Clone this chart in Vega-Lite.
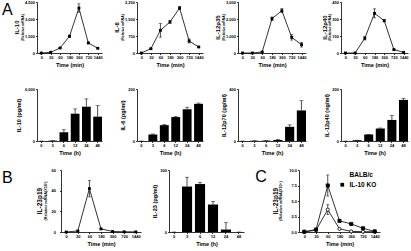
{
  "$schema": "https://vega.github.io/schema/vega-lite/v6.json",
  "background": "white",
  "padding": {"left": 1, "top": 0, "right": 0, "bottom": 0},
  "datasets": {
    "a1": [{"t":"0","v":0,"e":0},{"t":"30","v":60,"e":20},{"t":"60","v":445,"e":50},{"t":"180","v":1480,"e":100},{"t":"360","v":3970,"e":370},{"t":"720","v":890,"e":80},{"t":"1440","v":415,"e":40}],
    "a2": [{"t":"0","v":0,"e":0},{"t":"30","v":190,"e":20},{"t":"60","v":1000,"e":300},{"t":"180","v":1370,"e":60},{"t":"360","v":1985,"e":60},{"t":"720","v":530,"e":90},{"t":"1440","v":265,"e":30}],
    "a3": [{"t":"0","v":0,"e":0},{"t":"30","v":0,"e":0},{"t":"60","v":60,"e":20},{"t":"180","v":2020,"e":100},{"t":"360","v":2490,"e":120},{"t":"720","v":920,"e":160},{"t":"1440","v":490,"e":140}],
    "a4": [{"t":"0","v":0,"e":0},{"t":"30","v":0,"e":0},{"t":"60","v":130,"e":15},{"t":"180","v":350,"e":40},{"t":"360","v":285,"e":10},{"t":"720","v":30,"e":5},{"t":"1440","v":6,"e":2}],
    "b1": [{"t":"0","v":0,"hi":0},{"t":"3","v":40,"hi":40},{"t":"6","v":1000,"hi":1300},{"t":"12","v":3150,"hi":3700},{"t":"24","v":3960,"hi":4860},{"t":"48","v":2810,"hi":4080}],
    "b2": [{"t":"0","v":0,"hi":0},{"t":"3","v":25,"hi":27},{"t":"6","v":61,"hi":64},{"t":"12","v":92,"hi":94},{"t":"24","v":122,"hi":130},{"t":"48","v":143,"hi":146}],
    "b3": [{"t":"0","v":0,"hi":0},{"t":"3","v":2,"hi":2},{"t":"6","v":3,"hi":3},{"t":"12","v":8,"hi":12},{"t":"24","v":109,"hi":124},{"t":"48","v":235,"hi":310}],
    "b4": [{"t":"0","v":0,"hi":0},{"t":"3","v":3,"hi":3},{"t":"6","v":25,"hi":25},{"t":"12","v":48,"hi":50},{"t":"24","v":81,"hi":98},{"t":"48","v":158,"hi":164}],
    "c1": [{"t":"0","v":0,"e":0},{"t":"30","v":1,"e":0.5},{"t":"60","v":42,"e":8},{"t":"180","v":3,"e":0.5},{"t":"360","v":0.5,"e":0.2},{"t":"720","v":0.2,"e":0},{"t":"1440","v":0.1,"e":0}],
    "c2": [{"t":"0","v":0,"hi":0},{"t":"3","v":220,"hi":265},{"t":"6","v":232,"hi":240},{"t":"12","v":133,"hi":148},{"t":"24","v":12,"hi":45},{"t":"48","v":0,"hi":0}],
    "d": [
      {"s":"BALB/c","t":"0","v":0,"e":0},{"s":"BALB/c","t":"30","v":0.3,"e":0.1},{"s":"BALB/c","t":"60","v":3.6,"e":0.8},{"s":"BALB/c","t":"180","v":0.5,"e":0.1},{"s":"BALB/c","t":"360","v":0.1,"e":0},{"s":"BALB/c","t":"720","v":0.05,"e":0},{"s":"BALB/c","t":"1440","v":0.05,"e":0},
      {"s":"IL-10 KO","t":"0","v":0.05,"e":0},{"s":"IL-10 KO","t":"30","v":0.4,"e":0.1},{"s":"IL-10 KO","t":"60","v":7.5,"e":1.7},{"s":"IL-10 KO","t":"180","v":1.8,"e":0.2},{"s":"IL-10 KO","t":"360","v":1.3,"e":0.1},{"s":"IL-10 KO","t":"720","v":0.6,"e":0.1},{"s":"IL-10 KO","t":"1440","v":0.1,"e":0}
    ],
    "none": []
  },
  "bounds": "flush",
  "spacing": 168,
  "resolve": {"scale": {"shape": "independent", "fill": "independent"}, "legend": {"shape": "independent", "fill": "independent"}},
  "vconcat": [
    {
      "bounds": "flush",
      "spacing": 87,
      "vconcat": [
        {
          "bounds": "flush",
          "columns": 5,
          "align": "each",
          "spacing": 35,
          "title": {"text": "A", "anchor": "start", "frame": "bounds", "fontSize": 16, "fontWeight": "normal", "baseline": "top", "offset": 0, "dx": 1, "dy": 17.5},
          "concat": [
            {"width": 1, "height": 1, "data": {"name": "none"}, "mark": "point"},
            {
              "width": 65, "height": 51, "data": {"name": "a1"},
              "title": {"text": "IL-10", "subtitle": "(Relative mRNA)", "orient": "left", "anchor": "middle", "fontSize": 6, "fontWeight": "bold", "subtitleFontSize": 3.4, "subtitleFontWeight": "bold", "subtitlePadding": 0.3, "offset": 0.5, "subtitleColor": "black"},
              "encoding": {
                "x": {"field": "t", "type": "ordinal", "sort": null, "scale": {"type": "point", "padding": 0.45}, "axis": {"title": "Time (min)"}},
                "y": {"field": "v", "type": "quantitative", "scale": {"domain": [0, 4500]}, "axis": {"values": [0, 1500, 3000, 4500], "title": null}}
              },
              "layer": [
                {"mark": {"type": "line", "color": "black", "strokeWidth": 0.8}},
                {"mark": {"type": "errorbar", "color": "black", "thickness": 0.7, "ticks": {"size": 3}}, "encoding": {"yError": {"field": "e"}}},
                {"mark": {"type": "point", "shape": "square", "filled": true, "color": "black", "size": 8, "opacity": 1}}
              ]
            },
            {
              "width": 66, "height": 51, "data": {"name": "a2"},
              "title": {"text": "IL-6", "subtitle": "(Relative mRNA)", "orient": "left", "anchor": "middle", "fontSize": 6, "fontWeight": "bold", "subtitleFontSize": 3.4, "subtitleFontWeight": "bold", "subtitlePadding": 0.3, "offset": 0.5, "subtitleColor": "black"},
              "encoding": {
                "x": {"field": "t", "type": "ordinal", "sort": null, "scale": {"type": "point", "padding": 0.45}, "axis": {"title": "Time (min)"}},
                "y": {"field": "v", "type": "quantitative", "scale": {"domain": [0, 2250]}, "axis": {"values": [0, 750, 1500, 2250], "title": null}}
              },
              "layer": [
                {"mark": {"type": "line", "color": "black", "strokeWidth": 0.8}},
                {"mark": {"type": "errorbar", "color": "black", "thickness": 0.7, "ticks": {"size": 3}}, "encoding": {"yError": {"field": "e"}}},
                {"mark": {"type": "point", "shape": "square", "filled": true, "color": "black", "size": 8, "opacity": 1}}
              ]
            },
            {
              "width": 68, "height": 51, "data": {"name": "a3"},
              "title": {"text": "IL-12p35", "subtitle": "(Relative mRNA)", "orient": "left", "anchor": "middle", "fontSize": 6, "fontWeight": "bold", "subtitleFontSize": 3.4, "subtitleFontWeight": "bold", "subtitlePadding": 0.3, "offset": 0.5, "subtitleColor": "black"},
              "encoding": {
                "x": {"field": "t", "type": "ordinal", "sort": null, "scale": {"type": "point", "padding": 0.45}, "axis": {"title": "Time (min)"}},
                "y": {"field": "v", "type": "quantitative", "scale": {"domain": [0, 3000]}, "axis": {"values": [0, 1000, 2000, 3000], "title": null}}
              },
              "layer": [
                {"mark": {"type": "line", "color": "black", "strokeWidth": 0.8}},
                {"mark": {"type": "errorbar", "color": "black", "thickness": 0.7, "ticks": {"size": 3}}, "encoding": {"yError": {"field": "e"}}},
                {"mark": {"type": "point", "shape": "square", "filled": true, "color": "black", "size": 8, "opacity": 1}}
              ]
            },
            {
              "width": 67, "height": 51, "data": {"name": "a4"},
              "title": {"text": "IL-12p40", "subtitle": "(Relative mRNA)", "orient": "left", "anchor": "middle", "fontSize": 6, "fontWeight": "bold", "subtitleFontSize": 3.4, "subtitleFontWeight": "bold", "subtitlePadding": 0.3, "offset": 0.5, "subtitleColor": "black"},
              "encoding": {
                "x": {"field": "t", "type": "ordinal", "sort": null, "scale": {"type": "point", "padding": 0.45}, "axis": {"title": "Time (min)"}},
                "y": {"field": "v", "type": "quantitative", "scale": {"domain": [0, 450]}, "axis": {"values": [0, 150, 300, 450], "title": null}}
              },
              "layer": [
                {"mark": {"type": "line", "color": "black", "strokeWidth": 0.8}},
                {"mark": {"type": "errorbar", "color": "black", "thickness": 0.7, "ticks": {"size": 3}}, "encoding": {"yError": {"field": "e"}}},
                {"mark": {"type": "point", "shape": "square", "filled": true, "color": "black", "size": 8, "opacity": 1}}
              ]
            }
          ]
        },
        {
          "bounds": "flush",
          "columns": 5,
          "align": "each",
          "spacing": 35,
          "concat": [
            {"width": 1, "height": 1, "data": {"name": "none"}, "mark": "point"},
            {
              "width": 65, "height": 52, "data": {"name": "b1"},
              "encoding": {"x": {"field": "t", "type": "ordinal", "sort": null, "scale": {"paddingInner": 0.22, "paddingOuter": 0}, "axis": {"title": "Time (h)"}}},
              "layer": [
                {"mark": {"type": "bar", "color": "black"}, "encoding": {"y": {"field": "v", "type": "quantitative", "scale": {"domain": [0, 6000]}, "axis": {"values": [0, 2000, 4000, 6000], "title": "IL-10 (pg/ml)"}}}},
                {"mark": {"type": "rule", "color": "black", "strokeWidth": 0.7}, "encoding": {"y": {"field": "v", "type": "quantitative"}, "y2": {"field": "hi"}}},
                {"mark": {"type": "tick", "color": "black", "thickness": 0.7, "size": 4}, "encoding": {"y": {"field": "hi", "type": "quantitative"}}}
              ]
            },
            {
              "width": 66, "height": 52, "data": {"name": "b2"},
              "encoding": {"x": {"field": "t", "type": "ordinal", "sort": null, "scale": {"paddingInner": 0.22, "paddingOuter": 0}, "axis": {"title": "Time (h)"}}},
              "layer": [
                {"mark": {"type": "bar", "color": "black"}, "encoding": {"y": {"field": "v", "type": "quantitative", "scale": {"domain": [0, 200]}, "axis": {"values": [0, 50, 100, 150, 200], "title": "IL-6 (pg/ml)"}}}},
                {"mark": {"type": "rule", "color": "black", "strokeWidth": 0.7}, "encoding": {"y": {"field": "v", "type": "quantitative"}, "y2": {"field": "hi"}}},
                {"mark": {"type": "tick", "color": "black", "thickness": 0.7, "size": 4}, "encoding": {"y": {"field": "hi", "type": "quantitative"}}}
              ]
            },
            {
              "width": 68, "height": 52, "data": {"name": "b3"},
              "encoding": {"x": {"field": "t", "type": "ordinal", "sort": null, "scale": {"paddingInner": 0.22, "paddingOuter": 0}, "axis": {"title": "Time (h)"}}},
              "layer": [
                {"mark": {"type": "bar", "color": "black"}, "encoding": {"y": {"field": "v", "type": "quantitative", "scale": {"domain": [0, 400]}, "axis": {"values": [0, 100, 200, 300, 400], "title": "IL-12p70 (pg/ml)"}}}},
                {"mark": {"type": "rule", "color": "black", "strokeWidth": 0.7}, "encoding": {"y": {"field": "v", "type": "quantitative"}, "y2": {"field": "hi"}}},
                {"mark": {"type": "tick", "color": "black", "thickness": 0.7, "size": 4}, "encoding": {"y": {"field": "hi", "type": "quantitative"}}}
              ]
            },
            {
              "width": 67, "height": 52, "data": {"name": "b4"},
              "encoding": {"x": {"field": "t", "type": "ordinal", "sort": null, "scale": {"paddingInner": 0.22, "paddingOuter": 0}, "axis": {"title": "Time (h)"}}},
              "layer": [
                {"mark": {"type": "bar", "color": "black"}, "encoding": {"y": {"field": "v", "type": "quantitative", "scale": {"domain": [0, 200]}, "axis": {"values": [0, 50, 100, 150, 200], "title": "IL-12p40 (ng/ml)"}}}},
                {"mark": {"type": "rule", "color": "black", "strokeWidth": 0.7}, "encoding": {"y": {"field": "v", "type": "quantitative"}, "y2": {"field": "hi"}}},
                {"mark": {"type": "tick", "color": "black", "thickness": 0.7, "size": 4}, "encoding": {"y": {"field": "hi", "type": "quantitative"}}}
              ]
            }
          ]
        }
      ]
    },
    {
      "columns": 4,
      "align": "each",
      "spacing": 11,
      "resolve": {"scale": {"shape": "independent", "fill": "independent"}, "legend": {"shape": "independent", "fill": "independent"}},
      "title": {"text": "B", "anchor": "start", "frame": "bounds", "fontSize": 16, "fontWeight": "normal", "baseline": "top", "offset": 0, "dx": 1, "dy": 17.5},
      "concat": [
        {"width": 25, "height": 1, "data": {"name": "none"}, "mark": "point"},
        {
          "width": 80, "height": 62, "data": {"name": "c1"},
          "title": {"text": "IL-23p19", "subtitle": "(Relative mRNA(X10³)", "orient": "left", "anchor": "middle", "fontSize": 6.5, "fontWeight": "bold", "subtitleFontSize": 3.8, "subtitleFontWeight": "bold", "subtitlePadding": 0.3, "offset": 3, "subtitleColor": "black"},
          "encoding": {
            "x": {"field": "t", "type": "ordinal", "sort": null, "scale": {"type": "point", "padding": 0.45}, "axis": {"title": "Time (min)"}},
            "y": {"field": "v", "type": "quantitative", "scale": {"domain": [0, 60]}, "axis": {"values": [0, 20, 40, 60], "title": null, "labelPadding": 4}}
          },
          "layer": [
            {"mark": {"type": "line", "color": "black", "strokeWidth": 0.8}},
            {"mark": {"type": "errorbar", "color": "black", "thickness": 0.7, "ticks": {"size": 3}}, "encoding": {"yError": {"field": "e"}}},
            {"mark": {"type": "point", "shape": "square", "filled": true, "color": "black", "size": 8, "opacity": 1}}
          ]
        },
        {
          "width": 75, "height": 62, "data": {"name": "c2"},
          "encoding": {"x": {"field": "t", "type": "ordinal", "sort": null, "scale": {"paddingInner": 0.22, "paddingOuter": 0}, "axis": {"title": "Time (h)"}}},
          "layer": [
            {"mark": {"type": "bar", "color": "black"}, "encoding": {"y": {"field": "v", "type": "quantitative", "scale": {"domain": [0, 300]}, "axis": {"values": [0, 100, 200, 300], "title": "IL-23 (pg/ml)"}}}},
            {"mark": {"type": "rule", "color": "black", "strokeWidth": 0.7}, "encoding": {"y": {"field": "v", "type": "quantitative"}, "y2": {"field": "hi"}}},
            {"mark": {"type": "tick", "color": "black", "thickness": 0.7, "size": 4}, "encoding": {"y": {"field": "hi", "type": "quantitative"}}}
          ]
        },
        {
          "resolve": {"scale": {"shape": "independent", "fill": "independent"}, "legend": {"shape": "independent", "fill": "independent"}},
          "title": {"text": "C", "anchor": "start", "frame": "bounds", "fontSize": 16, "fontWeight": "normal", "baseline": "top", "offset": 0, "dx": -17.3, "dy": 16.5},
          "hconcat": [
            {
              "width": 81, "height": 62, "data": {"name": "d"},
              "title": {"text": "IL-23p19", "subtitle": "(Relative mRNA(X10⁵)", "orient": "left", "anchor": "middle", "fontSize": 6.5, "fontWeight": "bold", "subtitleFontSize": 3.8, "subtitleFontWeight": "bold", "subtitlePadding": 0.3, "offset": 5.5, "subtitleColor": "black"},
              "encoding": {
                "x": {"field": "t", "type": "ordinal", "sort": null, "scale": {"type": "point", "padding": 0.45}, "axis": {"title": "Time (min)"}},
                "y": {"field": "v", "type": "quantitative", "scale": {"domain": [0, 10]}, "axis": {"values": [0, 2.5, 5, 7.5, 10], "format": ".1f", "title": null}}
              },
              "layer": [
                {"mark": {"type": "line", "color": "black", "strokeWidth": 0.8}, "encoding": {"detail": {"field": "s"}}},
                {"mark": {"type": "errorbar", "color": "black", "thickness": 0.7, "ticks": {"size": 3}}, "encoding": {"yError": {"field": "e"}, "detail": {"field": "s"}}},
                {"mark": {"type": "point", "filled": true, "stroke": "black", "strokeWidth": 0.8, "size": 10, "opacity": 1},
                 "encoding": {
                   "shape": {"field": "s", "type": "nominal", "scale": {"domain": ["BALB/c", "IL-10 KO"], "range": ["circle", "square"]}, "legend": {"title": null, "orient": "none", "legendX": 40, "legendY": 2, "labelFontSize": 6.5, "labelFontWeight": "bold", "symbolSize": 14, "rowPadding": 1.5, "symbolStrokeColor": "black", "symbolStrokeWidth": 0.8}},
                   "fill": {"field": "s", "type": "nominal", "scale": {"domain": ["BALB/c", "IL-10 KO"], "range": ["white", "black"]}, "legend": {"title": null, "orient": "none", "legendX": 40, "legendY": 2, "labelFontSize": 6.5, "labelFontWeight": "bold", "symbolSize": 14, "rowPadding": 1.5, "symbolStrokeColor": "black", "symbolStrokeWidth": 0.8}}
                 }}
              ]
            }
          ]
        }
      ]
    }
  ],
  "config": {
    "view": {"stroke": null},
    "font": "Liberation Sans",
    "axis": {"grid": false, "domainColor": "black", "tickColor": "black", "tickSize": 1.5, "domainWidth": 0.8, "tickWidth": 0.8, "labelFontSize": 4, "labelFontWeight": "bold", "labelColor": "black", "labelPadding": 1, "titleFontSize": 5.6, "titleFontWeight": "bold", "titleColor": "black", "titlePadding": 2.5},
    "axisX": {"labelAngle": 0},
    "title": {"color": "black"},
    "legend": {"labelColor": "black"}
  }
}
